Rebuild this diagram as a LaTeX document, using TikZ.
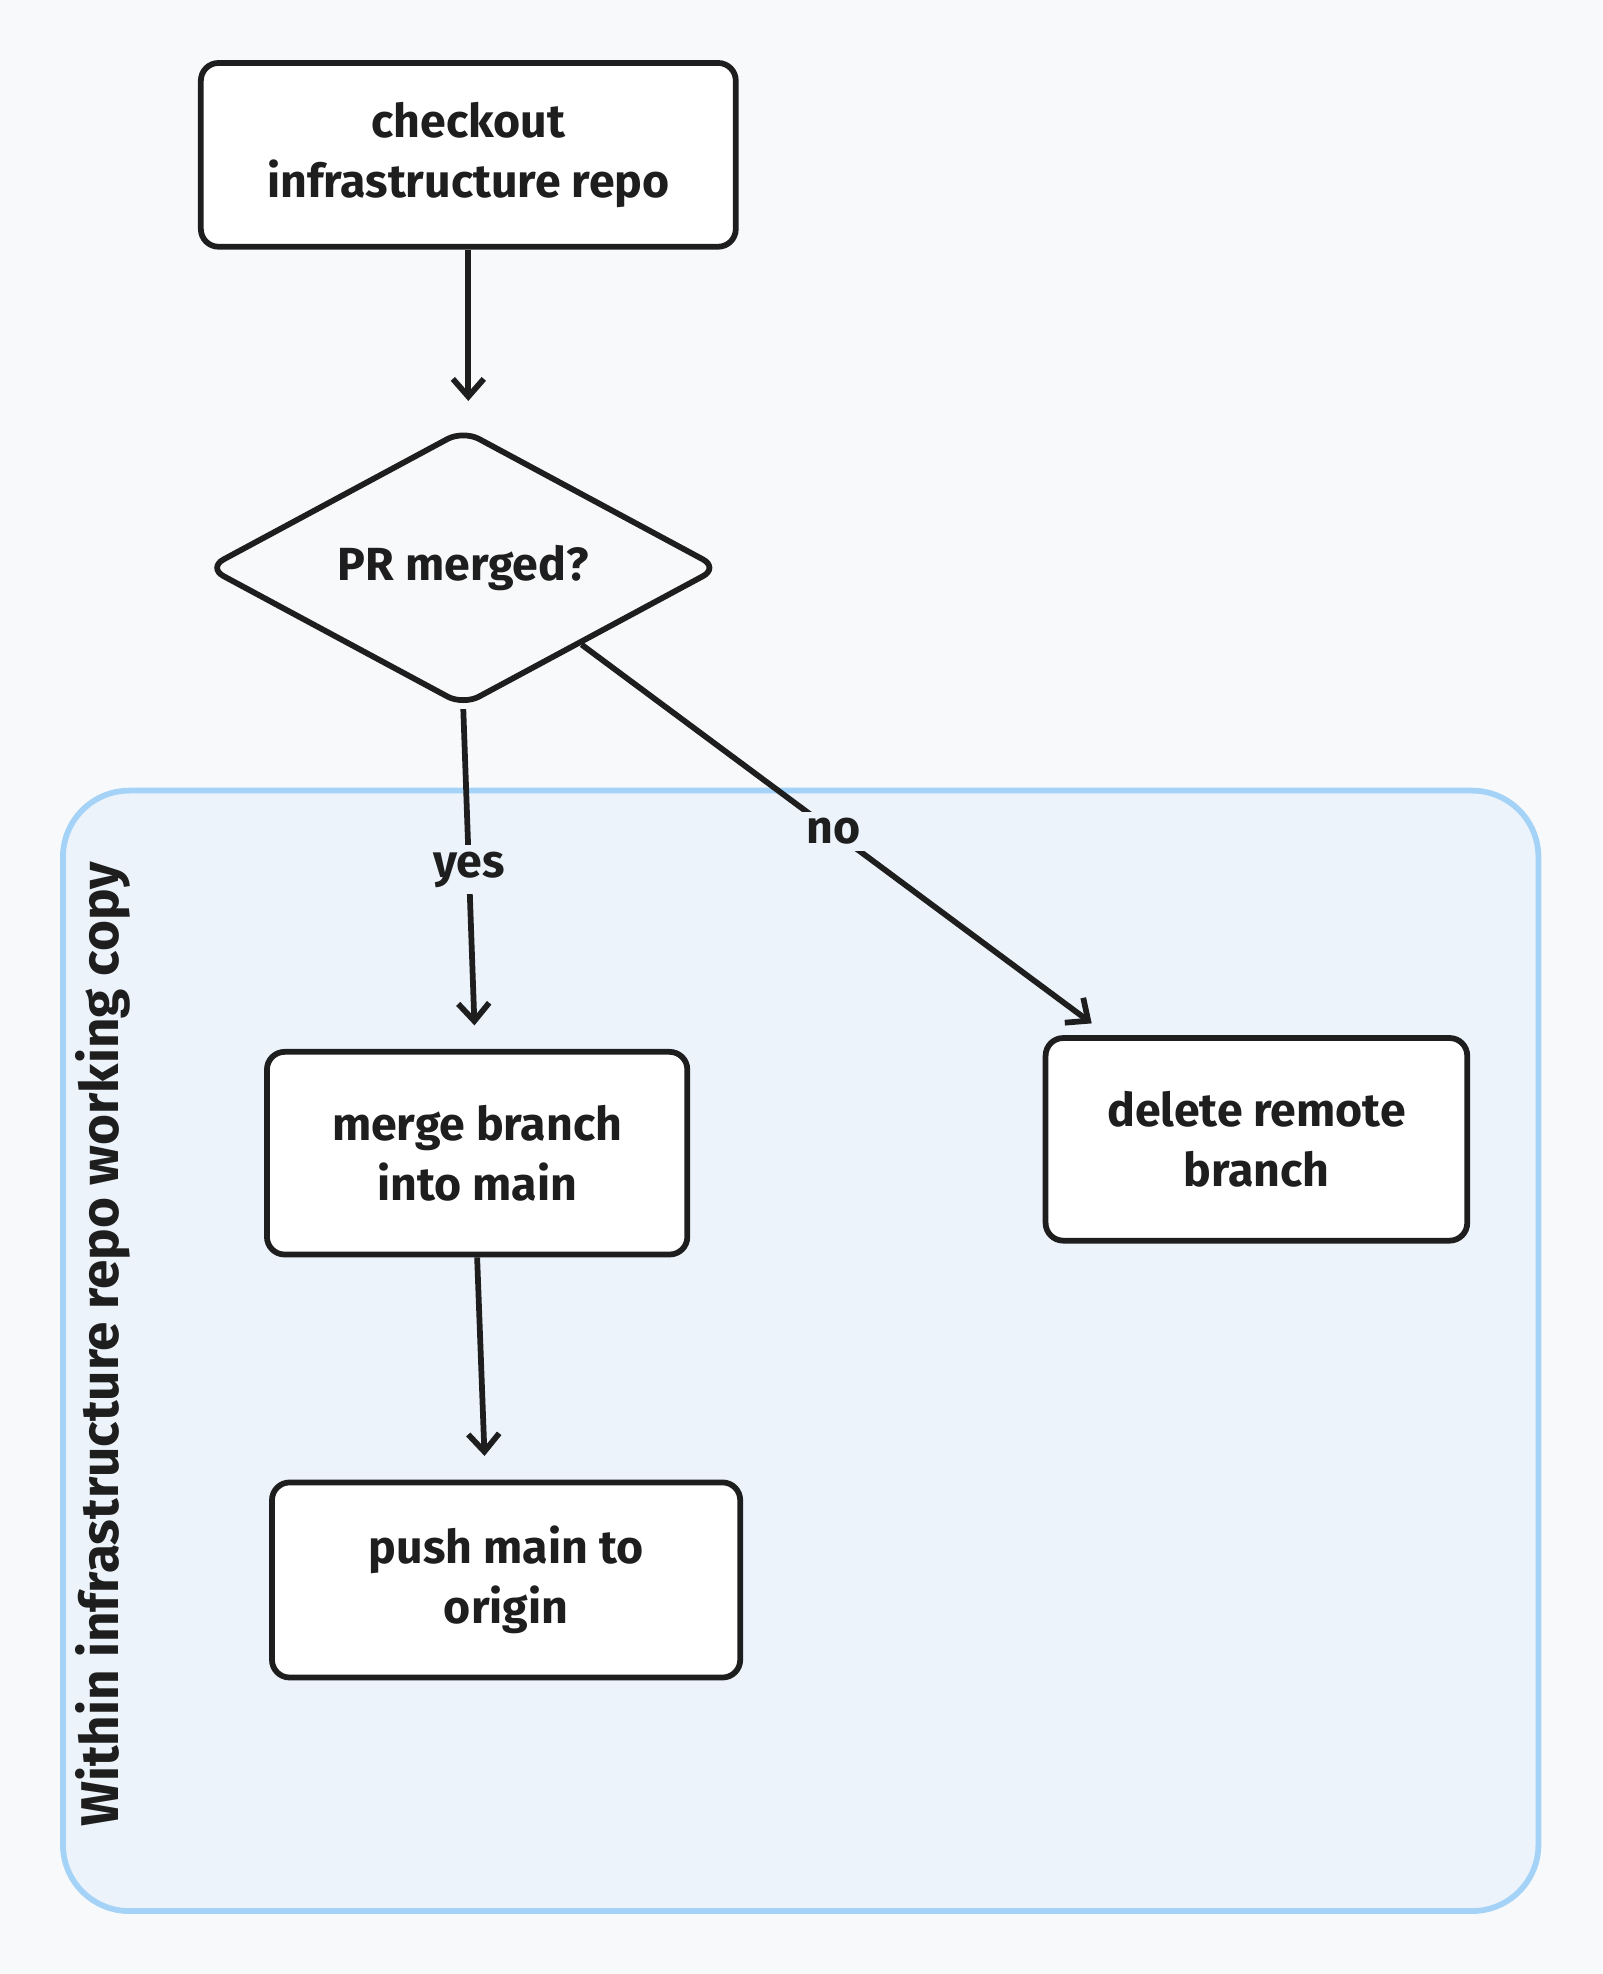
\documentclass[tikz,border=0pt]{standalone}
\usepackage{fontspec}
\setmainfont{Fira Sans}
\usetikzlibrary{shapes.geometric,positioning,arrows.meta}
\definecolor{bgcol}{HTML}{F8F9FB}
\definecolor{groupfill}{HTML}{ECF3FB}
\definecolor{groupline}{HTML}{A5D3F7}
\definecolor{inkcol}{HTML}{1E1E1E}
\begin{document}
\begin{tikzpicture}[x=0.02cm,y=-0.02cm]
    \tikzstyle{every node} = [font=\fontsize{21}{27}\selectfont\bfseries, text=inkcol]
    \tikzstyle{block} = [draw=inkcol, line width=2.6pt, rectangle, fill=white, rounded corners=8pt, align=center]
    \tikzstyle{decision} = [draw=inkcol, line width=2.6pt, diamond, aspect=1.83, fill=bgcol, rounded corners=8pt, inner sep=0pt]
    \tikzstyle{flow} = [-{Straight Barb[length=8pt,width=14pt]}, line width=2.6pt, draw=inkcol, shorten >=2pt]
    % background and group
    \fill[bgcol] (0,0) rectangle (1273,1568);
    \draw[groupline, fill=groupfill, line width=2.6pt, rounded corners=30pt] (50,628) rectangle (1222,1518);
    \node[rotate=90, font=\fontsize{24}{28}\selectfont\bfseries] (groupLabel) at (82,1068) {Within infrastructure repo working copy};
    % place nodes
    \node[block, minimum width=8.5cm, minimum height=2.92cm] (checkout) at (372,123) {checkout\\infrastructure repo};
    \node[decision, minimum width=8.15cm, minimum height=4.4cm] (merged) at (368,451) {PR merged?};
    \node[block, minimum width=6.68cm, minimum height=3.22cm] (mergeBranch) at (379,916) {merge branch\\into main};
    \node[block, minimum width=7.44cm, minimum height=3.1cm] (pushMain) at (402,1255) {push main to\\origin};
    \node[block, minimum width=6.7cm, minimum height=3.22cm] (deleteRemote) at (998,905) {delete remote\\branch};

    % Connections
    \draw[flow] (checkout.south) -- (372,322);
    \draw[flow] (merged.south) -- node[pos=0.5, fill=groupfill, inner sep=3pt]{yes} (377,818);
    \draw[flow] (merged.-33) -- node[pos=0.49, fill=groupfill, inner sep=3pt]{no} (870,815);
    \draw[flow] (mergeBranch.south) -- (385,1160);
\end{tikzpicture}
\end{document}
